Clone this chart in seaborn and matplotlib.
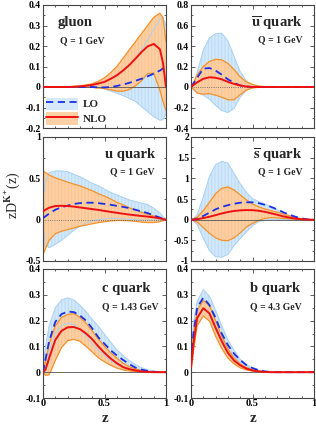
import numpy as np
import pandas as pd
import seaborn as sns
import matplotlib.pyplot as plt
from matplotlib.patches import Patch
from matplotlib.lines import Line2D
from matplotlib.ticker import MultipleLocator, FuncFormatter

# grille en z commune a tous les panneaux
z = [0, 0.02, 0.05, 0.1, 0.15, 0.2, 0.25, 0.3, 0.35, 0.4, 0.45, 0.5,
     0.55, 0.6, 0.65, 0.7, 0.75, 0.8, 0.85, 0.9, 0.95, 0.975, 1.0]

# gluon, Q = 1 GeV
gluon_lo = [0, 0, 0, 0, 0, 0, 0, 0, 0, 0, -0.002, -0.002, 0, 0.005, 0.012, 0.02, 0.03, 0.04, 0.052, 0.065, 0.08, 0.09, 0.1]
gluon_lo_min = [0, 0, 0, 0, 0, 0, 0, 0, 0, -0.001, -0.003, -0.01, -0.02, -0.03, -0.042, -0.055, -0.07, -0.095, -0.12, -0.145, -0.162, -0.16, -0.13]
gluon_lo_max = [0, 0, 0, 0, 0, 0.001, 0.002, 0.004, 0.007, 0.012, 0.018, 0.026, 0.04, 0.057, 0.08, 0.106, 0.137, 0.18, 0.23, 0.28, 0.33, 0.34, 0.3]
gluon_nlo = [0, 0, 0, 0, 0, 0, 0.001, 0.003, 0.006, 0.01, 0.017, 0.025, 0.04, 0.057, 0.08, 0.106, 0.137, 0.17, 0.198, 0.21, 0.185, 0.12, 0.0]
gluon_nlo_min = [0, 0, 0, 0, 0, 0, 0, 0, 0, -0.002, -0.005, -0.008, -0.014, -0.02, -0.021, -0.013, 0.005, 0.03, 0.065, 0.068, -0.016, -0.07, -0.115]
gluon_nlo_max = [0, 0, 0, 0, 0, 0.001, 0.003, 0.006, 0.01, 0.016, 0.028, 0.045, 0.07, 0.1, 0.14, 0.18, 0.22, 0.26, 0.3, 0.34, 0.36, 0.34, 0.22]

# anti-u
ubar_lo = [0, 0.035, 0.09, 0.18, 0.185, 0.16, 0.12, 0.075, 0.04, 0.015, 0.004, 0, 0, 0, 0, 0, 0, 0, 0, 0, 0, 0, 0]
ubar_lo_min = [0, -0.03, -0.05, -0.08, -0.12, -0.18, -0.23, -0.25, -0.21, -0.1, -0.03, -0.008, 0, 0, 0, 0, 0, 0, 0, 0, 0, 0, 0]
ubar_lo_max = [0, 0.03, 0.14, 0.36, 0.48, 0.52, 0.525, 0.45, 0.3, 0.15, 0.06, 0.02, 0.005, 0, 0, 0, 0, 0, 0, 0, 0, 0, 0]
ubar_nlo = [0, 0.02, 0.045, 0.08, 0.095, 0.09, 0.075, 0.05, 0.03, 0.015, 0.005, 0, 0, 0, 0, 0, 0, 0, 0, 0, 0, 0, 0]
ubar_nlo_min = [0, -0.02, -0.06, -0.07, -0.065, -0.08, -0.1, -0.125, -0.125, -0.075, -0.03, -0.01, -0.003, 0, 0, 0, 0, 0, 0, 0, 0, 0, 0]
ubar_nlo_max = [0, 0.04, 0.12, 0.2, 0.25, 0.27, 0.265, 0.23, 0.17, 0.1, 0.05, 0.025, 0.01, 0.003, 0, 0, 0, 0, 0, 0, 0, 0, 0]

# u
u_lo = [0.02, 0.04, 0.075, 0.12, 0.15, 0.17, 0.19, 0.2, 0.205, 0.205, 0.2, 0.19, 0.18, 0.167, 0.155, 0.14, 0.12, 0.1, 0.08, 0.052, 0.025, 0.012, 0]
u_lo_min = [-0.1, -0.3, -0.34, -0.3, -0.25, -0.19, -0.13, -0.08, -0.04, -0.015, 0, 0.01, 0.015, 0.015, 0.01, 0.005, 0, -0.005, -0.005, -0.005, 0, 0, 0]
u_lo_max = [0.25, 0.45, 0.57, 0.59, 0.59, 0.58, 0.55, 0.52, 0.48, 0.44, 0.41, 0.37, 0.33, 0.3, 0.27, 0.24, 0.22, 0.2, 0.185, 0.14, 0.08, 0.04, 0]
u_nlo = [0.1, 0.12, 0.145, 0.165, 0.168, 0.165, 0.158, 0.148, 0.138, 0.128, 0.118, 0.106, 0.094, 0.083, 0.072, 0.062, 0.053, 0.045, 0.037, 0.028, 0.016, 0.008, 0]
u_nlo_min = [-0.42, -0.35, -0.25, -0.17, -0.14, -0.12, -0.1, -0.08, -0.065, -0.05, -0.035, -0.025, -0.015, -0.01, -0.01, -0.013, -0.02, -0.03, -0.035, -0.035, -0.025, -0.012, 0]
u_nlo_max = [0.59, 0.57, 0.54, 0.505, 0.48, 0.455, 0.43, 0.41, 0.38, 0.35, 0.315, 0.285, 0.25, 0.21, 0.18, 0.145, 0.12, 0.09, 0.065, 0.045, 0.025, 0.012, 0]

# anti-s
sbar_lo = [0, 0, 0.02, 0.09, 0.17, 0.25, 0.31, 0.35, 0.385, 0.41, 0.42, 0.42, 0.4, 0.36, 0.31, 0.25, 0.18, 0.12, 0.07, 0.03, 0.005, 0, 0]
sbar_lo_min = [0, -0.03, -0.12, -0.45, -0.75, -0.9, -0.91, -0.84, -0.63, -0.46, -0.3, -0.15, -0.05, -0.01, 0, 0, 0, 0, 0, 0, 0, 0, 0]
sbar_lo_max = [0, 0.03, 0.12, 0.55, 1.05, 1.33, 1.41, 1.37, 1.12, 0.87, 0.66, 0.51, 0.44, 0.38, 0.32, 0.24, 0.17, 0.1, 0.05, 0.02, 0.005, 0, 0]
sbar_nlo = [0, 0, 0.01, 0.04, 0.07, 0.11, 0.15, 0.185, 0.21, 0.225, 0.232, 0.23, 0.215, 0.19, 0.155, 0.12, 0.08, 0.05, 0.025, 0.01, 0, 0, 0]
sbar_nlo_min = [0, -0.02, -0.06, -0.19, -0.33, -0.44, -0.5, -0.51, -0.44, -0.32, -0.18, -0.09, -0.02, 0.03, 0.05, 0.04, 0.03, 0.02, 0.01, 0.005, 0, 0, 0]
sbar_nlo_max = [0, 0.02, 0.06, 0.22, 0.42, 0.63, 0.76, 0.79, 0.72, 0.6, 0.48, 0.38, 0.31, 0.26, 0.22, 0.18, 0.14, 0.09, 0.05, 0.02, 0.005, 0, 0]

# c, Q = 1.43 GeV
c_lo = [0, 0.05, 0.12, 0.195, 0.225, 0.235, 0.233, 0.22, 0.2, 0.17, 0.135, 0.11, 0.085, 0.065, 0.048, 0.032, 0.018, 0.01, 0.005, 0.002, 0, 0, 0]
c_lo_min = [-0.01, 0.0, 0.08, 0.15, 0.18, 0.19, 0.185, 0.165, 0.14, 0.11, 0.085, 0.065, 0.045, 0.03, 0.02, 0.012, 0.007, 0.003, 0.001, 0, 0, 0, 0]
c_lo_max = [0.02, 0.1, 0.18, 0.25, 0.28, 0.288, 0.28, 0.26, 0.235, 0.205, 0.178, 0.147, 0.117, 0.087, 0.065, 0.045, 0.03, 0.018, 0.009, 0.004, 0.002, 0.001, 0]
c_nlo = [0, 0.01, 0.055, 0.125, 0.16, 0.174, 0.175, 0.167, 0.15, 0.128, 0.1, 0.075, 0.053, 0.035, 0.02, 0.012, 0.007, 0.003, 0.001, 0, 0, 0, 0]
c_nlo_min = [0, -0.012, -0.01, 0.045, 0.095, 0.122, 0.127, 0.12, 0.1, 0.078, 0.056, 0.04, 0.027, 0.016, 0.009, 0.005, 0.002, 0.001, 0, 0, 0, 0, 0]
c_nlo_max = [0, 0.04, 0.11, 0.18, 0.212, 0.224, 0.227, 0.213, 0.19, 0.16, 0.128, 0.1, 0.075, 0.055, 0.035, 0.022, 0.013, 0.007, 0.003, 0.001, 0, 0, 0]

# b, Q = 4.3 GeV
b_lo = [0.04, 0.15, 0.25, 0.289, 0.26, 0.21, 0.15, 0.105, 0.072, 0.047, 0.028, 0.016, 0.008, 0.003, 0.001, 0, 0, 0, 0, 0, 0, 0, 0]
b_lo_min = [0.03, 0.12, 0.21, 0.245, 0.225, 0.18, 0.13, 0.09, 0.06, 0.038, 0.022, 0.012, 0.006, 0.002, 0.001, 0, 0, 0, 0, 0, 0, 0, 0]
b_lo_max = [0.05, 0.19, 0.275, 0.32, 0.295, 0.24, 0.18, 0.125, 0.085, 0.05, 0.03, 0.015, 0.008, 0.004, 0.002, 0, 0, 0, 0, 0, 0, 0, 0]
b_nlo = [0.02, 0.11, 0.21, 0.248, 0.228, 0.172, 0.12, 0.075, 0.045, 0.027, 0.014, 0.007, 0.003, 0.001, 0, 0, 0, 0, 0, 0, 0, 0, 0]
b_nlo_min = [0, 0.08, 0.18, 0.218, 0.198, 0.14, 0.092, 0.055, 0.032, 0.017, 0.009, 0.004, 0.002, 0.001, 0, 0, 0, 0, 0, 0, 0, 0, 0]
b_nlo_max = [0.03, 0.14, 0.24, 0.278, 0.258, 0.2, 0.14, 0.09, 0.055, 0.032, 0.018, 0.009, 0.004, 0.002, 0.001, 0, 0, 0, 0, 0, 0, 0, 0]

titles = ['gluon', r'$\overline{\mathbf{u}}$ quark', 'u quark',
          r'$\overline{\mathbf{s}}$ quark', 'c quark', 'b quark']
echelles = ['Q = 1 GeV', 'Q = 1 GeV', 'Q = 1 GeV', 'Q = 1 GeV',
            'Q = 1.43 GeV', 'Q = 4.3 GeV']

sns.set_theme(style='ticks')
plt.rcParams['font.family'] = ['Liberation Serif', 'DejaVu Serif']
plt.rcParams['font.weight'] = 'bold'
plt.rcParams['mathtext.fontset'] = 'stix'
plt.rcParams['axes.unicode_minus'] = False
plt.rcParams['hatch.linewidth'] = 0.8

BLEU_FOND = '#d3e8fb'
BLEU_HACH = '#bcdcf7'
BLEU_BORD = '#a9d1f4'
ORANGE_FOND = '#fcd0a4'
ORANGE_HACH = '#fbc38e'
ORANGE = '#f5922a'
ROUGE = '#ee1111'
BLEU = '#1a30e8'

panneaux = [
    (gluon_lo, gluon_lo_min, gluon_lo_max, gluon_nlo, gluon_nlo_min, gluon_nlo_max),
    (ubar_lo, ubar_lo_min, ubar_lo_max, ubar_nlo, ubar_nlo_min, ubar_nlo_max),
    (u_lo, u_lo_min, u_lo_max, u_nlo, u_nlo_min, u_nlo_max),
    (sbar_lo, sbar_lo_min, sbar_lo_max, sbar_nlo, sbar_nlo_min, sbar_nlo_max),
    (c_lo, c_lo_min, c_lo_max, c_nlo, c_nlo_min, c_nlo_max),
    (b_lo, b_lo_min, b_lo_max, b_nlo, b_nlo_min, b_nlo_max),
]
limites = [(-0.2, 0.4, 0.1), (-0.4, 0.8, 0.2), (-0.5, 1.0, 0.5),
           (-1.0, 2.0, 0.5), (-0.1, 0.4, 0.1), (-0.1, 0.4, 0.1)]

W, H = 316, 425
gauches = [43, 191]
lignes = [(5, 128), (137, 261), (269, 398)]

fig = plt.figure(figsize=(W / 100, H / 100), dpi=100)

for i in range(6):
    row, col = i // 2, i % 2
    top, bot = lignes[row]
    ax = fig.add_axes([gauches[col] / W, 1 - bot / H, 123 / W, (bot - top) / H])
    lo, lo_min, lo_max, nlo, nlo_min, nlo_max = panneaux[i]

    # bande LO (bleu clair hachuree)
    ax.fill_between(z, lo_min, lo_max, facecolor=BLEU_FOND, edgecolor=BLEU_HACH,
                    hatch='|||||', linewidth=0, zorder=1)
    # bande NLO (orange)
    ax.fill_between(z, nlo_min, nlo_max, facecolor=ORANGE_FOND, edgecolor=ORANGE_HACH,
                    hatch='|||||', linewidth=0, zorder=2)
    # bords de la bande LO visibles par dessus l'orange
    ax.plot(z, lo_min, color=BLEU_BORD, lw=0.7, zorder=2.2)
    ax.plot(z, lo_max, color=BLEU_BORD, lw=0.7, zorder=2.2)
    ax.plot(z, nlo_min, color=ORANGE, lw=0.9, zorder=2.5)
    ax.plot(z, nlo_max, color=ORANGE, lw=0.9, zorder=2.5)

    ls0 = ':' if i in (1, 2) else '-'
    ax.axhline(0, color='#555555', lw=0.6, ls=ls0, zorder=2.6)

    sns.lineplot(x=z, y=lo, ax=ax, color=BLEU, lw=1.3, linestyle=(0, (4, 2.5)), zorder=3)
    sns.lineplot(x=z, y=nlo, ax=ax, color=ROUGE, lw=1.4, zorder=4)

    ymin, ymax, pas = limites[i]
    ax.set_xlim(0, 1)
    ax.set_ylim(ymin, ymax)
    ax.xaxis.set_major_locator(MultipleLocator(0.5))
    ax.xaxis.set_minor_locator(MultipleLocator(0.1))
    ax.yaxis.set_major_locator(MultipleLocator(pas))
    ax.yaxis.set_minor_locator(MultipleLocator(pas / 2))
    ax.yaxis.set_major_formatter(FuncFormatter(lambda v, p: '%g' % round(v, 3)))
    ax.xaxis.set_major_formatter(FuncFormatter(lambda v, p: '%g' % round(v, 3)))
    ax.tick_params(which='both', direction='in', top=True, right=True,
                   labelsize=7, pad=1.5, width=0.6, colors='#444444', labelcolor='black')
    ax.tick_params(which='major', length=3)
    ax.tick_params(which='minor', length=1.6)
    if row < 2:
        ax.tick_params(labelbottom=False)
    else:
        ax.tick_params(axis='x', labelsize=7.5, pad=1)
    for s in ax.spines.values():
        s.set_color('#444444')
        s.set_linewidth(0.8)
    ax.set_xlabel('')
    ax.set_ylabel('')

    if i == 0:
        ax.text(0.12, 0.86, titles[i], transform=ax.transAxes, fontsize=10.5, va='center')
        ax.text(0.14, 0.71, echelles[i], transform=ax.transAxes, fontsize=7, va='center')
        poignees = [(Patch(facecolor='#d6e9fb', edgecolor='none'),
                     Line2D([], [], color=BLEU, lw=1.3, ls=(0, (4, 2.5)))),
                    (Patch(facecolor='#fdd0a6', edgecolor='none'),
                     Line2D([], [], color=ROUGE, lw=1.4))]
        ax.legend(poignees, ['LO', 'NLO'], loc='lower left', bbox_to_anchor=(0.01, 0.01),
                  frameon=False, handlelength=2.8, handleheight=1.3, fontsize=8,
                  borderaxespad=0.1, borderpad=0.1, labelspacing=0.25, handletextpad=0.5)
    elif i in (1, 2, 3):
        ax.text(0.91, 0.855, titles[i], transform=ax.transAxes, fontsize=10.5,
                ha='right', va='center')
        ax.text(0.91, 0.72, echelles[i], transform=ax.transAxes, fontsize=7,
                ha='right', va='center')
    else:
        ax.text(0.48, 0.85, titles[i], transform=ax.transAxes, fontsize=10.5, va='center')
        ax.text(0.48, 0.705, echelles[i], transform=ax.transAxes, fontsize=7, va='center')

fig.text(0.038, 0.541, r'zD$^{\mathrm{K}^{+}}$(z)', rotation=90, fontsize=10,
         fontweight='normal', ha='center', va='center')
fig.text(105 / W, 0.5 / H, 'z', fontsize=11, ha='center', va='bottom')
fig.text(253 / W, 0.5 / H, 'z', fontsize=11, ha='center', va='bottom')

plt.savefig('out.png', dpi=100)
